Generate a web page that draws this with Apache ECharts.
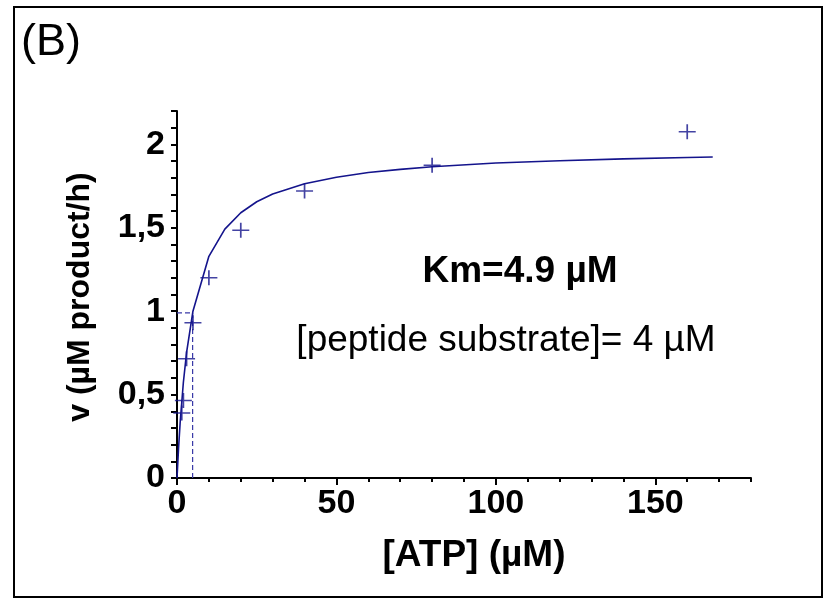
<!DOCTYPE html>
<html>
<head>
<meta charset="utf-8">
<script src="https://cdn.jsdelivr.net/npm/echarts@6/dist/echarts.min.js"></script>
<style>
html,body{margin:0;padding:0;background:#fff;}
#chart{width:838px;height:604px;}
</style>
</head>
<body>
<div id="chart"></div>
<script>
// Measured data points: [ATP] (µM) and v (µM product/h)
var atpPoints = [1.5, 2, 3, 5, 10, 20, 40, 80, 160];
var vPoints = [0.39, 0.465, 0.715, 0.93, 1.2, 1.485, 1.72, 1.875, 2.075];
// Fitted curve
var curveX = [0, 0.5, 1, 2, 3, 5, 10, 15, 20, 25, 30, 40, 50, 60, 70, 80, 100, 120, 140, 160, 168];
var curveY = [0, 0.183, 0.336, 0.574, 0.752, 1.0, 1.329, 1.492, 1.59, 1.656, 1.702, 1.764, 1.803, 1.831, 1.85, 1.866, 1.888, 1.902, 1.913, 1.921, 1.924];
// Km guide lines
var kmValue = 4.9;
var halfVmax = 0.99;
// Tick labels
var xTickLabels = [0, 50, 100, 150];
var yTickLabels = [0, 0.5, 1, 1.5, 2];

var NAVY = '#14148c';
var FONT = '"Liberation Sans", Arial, sans-serif';

function zip(a, b) { return a.map(function (v, i) { return [v, b[i]]; }); }

var chart = echarts.init(document.getElementById('chart'), null, {renderer: 'canvas'});
var option = {
  animation: false,
  backgroundColor: '#fff',
  grid: {left: 177, top: 111, width: 574, height: 367, containLabel: false},
  xAxis: [{
    type: 'value', min: 0, max: 180, interval: 10,
    axisLine: {show: true, onZero: false, lineStyle: {color: '#000', width: 2}},
    axisTick: {show: true, length: 4, lineStyle: {color: '#000', width: 2}},
    axisLabel: {
      customValues: xTickLabels, margin: 9,
      fontFamily: FONT, fontWeight: 'bold', fontSize: 34, color: '#000'
    },
    splitLine: {show: false}
  }, {
    type: 'value', min: 0, max: 180, position: 'bottom', gridIndex: 0,
    axisLine: {show: false},
    axisTick: {show: true, length: 7, customValues: xTickLabels, lineStyle: {color: '#000', width: 2}},
    axisLabel: {show: false},
    splitLine: {show: false}
  }],
  yAxis: {
    type: 'value', min: 0, max: 2.2, interval: 0.1,
    axisLine: {show: true, onZero: false, lineStyle: {color: '#000', width: 2}},
    axisTick: {show: true, length: 6, lineStyle: {color: '#000', width: 2}},
    axisLabel: {
      customValues: yTickLabels, margin: 12,
      fontFamily: FONT, fontWeight: 'bold', fontSize: 34, color: '#000',
      formatter: function (v) { return String(v).replace('.', ','); }
    },
    splitLine: {show: false}
  },
  series: [{
    type: 'line', data: [[kmValue, 0], [kmValue, halfVmax]], symbol: 'none',
    lineStyle: {color: '#3a3aa8', width: 1.2, type: [5, 3]}, z: 1
  }, {
    type: 'line', data: [[0, halfVmax], [kmValue, halfVmax]], symbol: 'none',
    lineStyle: {color: '#3a3aa8', width: 1.2, type: [5, 3]}, z: 1
  }, {
    type: 'line', data: zip(curveX, curveY), symbol: 'none', smooth: false,
    lineStyle: {color: NAVY, width: 1.6}, z: 2
  }, {
    type: 'scatter', data: zip(atpPoints, vPoints),
    symbol: 'path://M8,0 L8,14 M0,7 L16,7', symbolSize: [17, 15],
    itemStyle: {color: 'rgba(0,0,0,0)', borderColor: NAVY, borderWidth: 1.6}, z: 3
  }],
  graphic: [
    {type: 'rect', shape: {x: 14, y: 7, width: 808, height: 590},
     style: {fill: 'none', stroke: '#000', lineWidth: 2}, z: -1},
    {type: 'text', x: 21, y: 43,
     style: {text: '(B)', font: 'normal 45px ' + FONT, fill: '#000', textAlign: 'left', textVerticalAlign: 'middle'}},
    {type: 'text', x: 474, y: 556,
     style: {text: '[ATP] (µM)', font: 'bold 37px ' + FONT, fill: '#000', textAlign: 'center', textVerticalAlign: 'middle'}},
    {type: 'text', x: 80, y: 297, rotation: Math.PI / 2,
     style: {text: 'v (µM product/h)', font: 'bold 32px ' + FONT, fill: '#000', textAlign: 'center', textVerticalAlign: 'middle'}},
    {type: 'text', x: 520, y: 272,
     style: {text: 'Km=4.9 µM', font: 'bold 37px ' + FONT, fill: '#000', textAlign: 'center', textVerticalAlign: 'middle'}},
    {type: 'text', x: 506, y: 341,
     style: {text: '[peptide substrate]= 4 µM', font: 'normal 37px ' + FONT, fill: '#000', textAlign: 'center', textVerticalAlign: 'middle'}}
  ]
};
chart.setOption(option);
</script>
</body>
</html>
